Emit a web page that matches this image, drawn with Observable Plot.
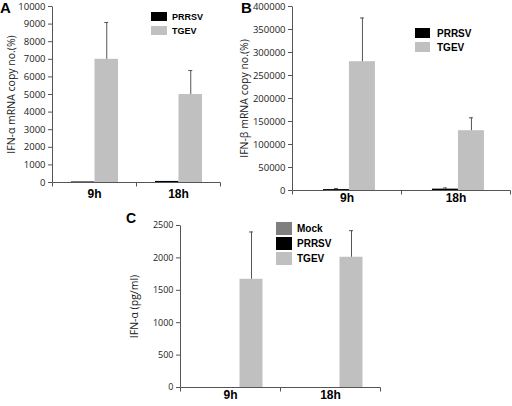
<!DOCTYPE html>
<html><head><meta charset="utf-8">
<script src="https://cdn.jsdelivr.net/npm/d3@7"></script>
<script src="https://cdn.jsdelivr.net/npm/@observablehq/plot@0.6"></script>
<style>
body{margin:0;background:#fff;}
#root{position:relative;width:512px;height:406px;overflow:hidden;background:#fff;}
.panel{position:absolute;}
.letter{position:absolute;font-weight:bold;font-family:"Liberation Sans",Arial,sans-serif;line-height:1;z-index:2;}
.item{position:absolute;display:flex;align-items:center;font-weight:bold;font-family:"Liberation Sans",Arial,sans-serif;z-index:2;color:#000;}
.item span.sw{display:inline-block;flex:none;}
</style></head><body><div id="root"></div>
<script>
const times = ["9h", "18h"];
const colors = {Mock: "#7f7f7f", PRRSV: "#000000", TGEV: "#c0c0c0"};

// Panel A: IFN-α mRNA copy no.(%)
const aSeries = ["PRRSV", "TGEV"];
const aPRRSV = [30, 60];
const aPRRSVHigh = [null, null];
const aTGEV = [7000, 5000];
const aTGEVHigh = [9090, 6360];
const aTicks = [0, 1000, 2000, 3000, 4000, 5000, 6000, 7000, 8000, 9000, 10000];

// Panel B: IFN-β mRNA copy no.(%)
const bSeries = ["PRRSV", "TGEV"];
const bPRRSV = [2000, 3000];
const bPRRSVHigh = [4200, 5500];
const bTGEV = [280000, 130000];
const bTGEVHigh = [375000, 158000];
const bTicks = [0, 50000, 100000, 150000, 200000, 250000, 300000, 350000, 400000];

// Panel C: IFN-α (pg/ml)
const cSeries = ["Mock", "PRRSV", "TGEV"];
const cMock = [0, 0];
const cPRRSV = [0, 0];
const cTGEV = [1670, 2010];
const cTGEVHigh = [2400, 2420];
const cTicks = [0, 500, 1000, 1500, 2000, 2500];

const root = document.getElementById("root");

function drawPanel(cfg) {
  const {series, values, highs, ticks, yLabel, left, top, width, height, mL, mR, mT, mB,
         groupStart, slot, labelDx, tickFont, xPad} = cfg;
  const rows = [];
  series.forEach((s, k) => times.forEach((t, i) =>
    rows.push({time: t, series: s, value: values[k][i], high: highs[k][i]})));
  const bw = (width - mL - mR) / times.length;
  const marks = [];
  series.forEach((s, k) => {
    const data = rows.filter(r => r.series === s);
    const x0 = bw * (groupStart + k * slot), x1 = bw * (groupStart + (k + 1) * slot);
    const dx = (x0 + x1) / 2 - bw / 2;
    marks.push(Plot.barY(data, {x: "time", y: "value", fill: colors[s], insetLeft: x0, insetRight: bw - x1}));
    const err = data.filter(r => r.high != null);
    marks.push(Plot.ruleX(err, {x: "time", y1: "value", y2: "high", dx, stroke: "#555", strokeWidth: 1}));
    marks.push(Plot.tickY(err, {x: "time", y: "high", dx, insetLeft: bw / 2 - 2, insetRight: bw / 2 - 2, stroke: "#555"}));
  });
  marks.push((index, scales, values, dims) => {
    const g = d3.create("svg:g").attr("stroke", "#555").attr("fill", "none").attr("transform", "translate(0.5,0.5)");
    const w = dims.width, h = dims.height;
    const yb = h - dims.marginBottom;
    g.append("line").attr("x1", dims.marginLeft).attr("x2", dims.marginLeft).attr("y1", dims.marginTop).attr("y2", yb);
    g.append("line").attr("x1", dims.marginLeft).attr("x2", w - dims.marginRight).attr("y1", yb).attr("y2", yb);
    const x = scales.x;
    const b = (x && x.bandwidth) ? x.bandwidth() : (w - dims.marginLeft - dims.marginRight) / times.length;
    const edges = times.map(t => x(t)).concat([x(times[times.length - 1]) + b]);
    edges.forEach(e => g.append("line").attr("x1", e).attr("x2", e).attr("y1", yb).attr("y2", yb + 4));
    return g.node();
  });
  marks.push(Plot.axisY({ticks, tickSize: 4, tickPadding: 3, fontSize: tickFont, tickFormat: d => String(d), label: null, stroke: "#555", fill: "#222"}));
  marks.push(Plot.axisX({tickSize: 0, tickPadding: xPad, fontSize: 12, fontWeight: "bold", fontFamily: "'Liberation Sans', Arial, sans-serif", fill: "#000", label: null}));
  marks.push(Plot.text([yLabel], {text: d => d, frameAnchor: "left", textAnchor: "middle", lineAnchor: "middle", rotate: -90, dx: labelDx, fontSize: 10.5, fill: "#222"}));
  const svg = Plot.plot({
    width, height, marginLeft: mL, marginRight: mR, marginTop: mT, marginBottom: mB,
    x: {type: "band", domain: times, padding: 0},
    y: {domain: [0, ticks[ticks.length - 1]]},
    style: {fontFamily: "'Open Sans', sans-serif", color: "#222", background: "transparent", overflow: "visible"},
    marks
  });
  const wrap = document.createElement("div");
  wrap.className = "panel";
  wrap.style.left = left + "px";
  wrap.style.top = top + "px";
  wrap.appendChild(svg);
  root.appendChild(wrap);
}

function letter(t, left, top, size) {
  const d = document.createElement("div");
  d.className = "letter";
  d.textContent = t;
  d.style.left = left + "px"; d.style.top = top + "px"; d.style.fontSize = size + "px";
  root.appendChild(d);
}

function legend(series, x, y0, step, sw, shh, gap, font) {
  series.forEach((s, i) => {
    const d = document.createElement("div");
    d.className = "item";
    d.style.left = x + "px";
    d.style.top = (y0 + i * step) + "px";
    d.style.height = shh + "px";
    d.style.fontSize = font + "px";
    const sq = document.createElement("span");
    sq.className = "sw";
    sq.style.width = sw + "px"; sq.style.height = shh + "px"; sq.style.background = colors[s];
    sq.style.marginRight = gap + "px";
    const tx = document.createElement("span");
    tx.textContent = s;
    d.appendChild(sq); d.appendChild(tx);
    root.appendChild(d);
  });
}

drawPanel({series: aSeries, values: [aPRRSV, aTGEV], highs: [aPRRSVHigh, aTGEVHigh], ticks: aTicks,
  yLabel: "IFN-α mRNA copy no.(%)", left: 0, top: 0, width: 220, height: 205, mL: 52, mR: 0, mT: 6, mB: 23,
  groupStart: 0.226, slot: 0.28, labelDx: -41, tickFont: 9.5, xPad: 7});
drawPanel({series: bSeries, values: [bPRRSV, bTGEV], highs: [bPRRSVHigh, bTGEVHigh], ticks: bTicks,
  yLabel: "IFN-β mRNA copy no.(%)", left: 238, top: 0, width: 274, height: 210, mL: 54, mR: 2, mT: 6, mB: 20,
  groupStart: 0.284, slot: 0.2385, labelDx: -48, tickFont: 9.5, xPad: 3});
drawPanel({series: cSeries, values: [cMock, cPRRSV, cTGEV], highs: [[null, null], [null, null], cTGEVHigh], ticks: cTicks,
  yLabel: "IFN-α (pg/ml)", left: 125, top: 212, width: 255, height: 194, mL: 55, mR: 0, mT: 13, mB: 19,
  groupStart: 0.135, slot: 0.23, labelDx: -46, tickFont: 9, xPad: 3});

letter("A", 0, 0, 15);
letter("B", 241, 0, 15);
letter("C", 126, 211, 14);

legend(aSeries, 151, 12, 14, 16, 9, 5, 9);
legend(bSeries, 415, 28, 14, 15, 10, 7, 10);
legend(cSeries, 276, 222, 15, 16, 13, 5, 10);
</script></body></html>
